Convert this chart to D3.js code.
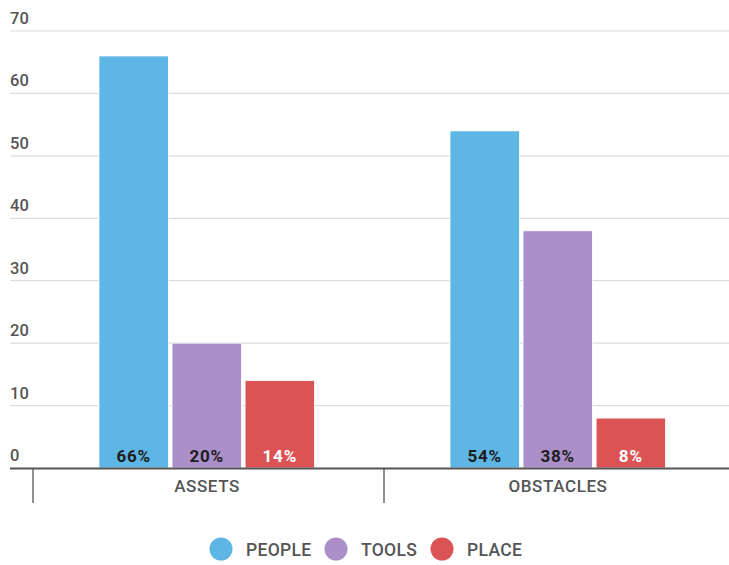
<!DOCTYPE html>
<html><head><meta charset="utf-8">
<script src="https://cdn.jsdelivr.net/npm/d3@7"></script>
<style>body{margin:0;background:#fff}svg{display:block;font-family:Roboto,sans-serif}</style>
</head><body><svg id="c" width="729" height="565"></svg>
<script>
const categories = ["ASSETS", "OBSTACLES"];
const seriesNames = ["PEOPLE", "TOOLS", "PLACE"];
const people = [66, 54];
const tools = [20, 38];
const place = [14, 8];
const barLabels = [["66%", "20%", "14%"], ["54%", "38%", "8%"]];
const yTicks = [0, 10, 20, 30, 40, 50, 60, 70];
const colors = ["#5DB6E4", "#AB8FC9", "#DC5356"];
const labelColors = ["#1d1d1d", "#1d1d1d", "#ffffff"];

const seriesValues = [people, tools, place];
const svg = d3.select("#c");
const y = d3.scaleLinear().domain([0, 70]).range([468, 31]);
const x0 = d3.scaleBand().domain(categories).range([33, 735]);
const bw = x0.bandwidth();
const x1 = d3.scaleBand().domain(seriesNames).range([bw*0.188, bw*0.802]).paddingInner(0.05);

// grid
svg.append("g").selectAll("line").data(yTicks.filter(d=>d>0)).join("line")
  .attr("x1", 10).attr("x2", 729).attr("y1", d=>y(d)).attr("y2", d=>y(d))
  .attr("stroke", "#dcdcdc").attr("stroke-width", 1.2);
svg.append("g").selectAll("text").data(yTicks).join("text")
  .attr("x", 10).attr("y", d=>y(d)-7).text(d=>d)
  .attr("font-size", 16.5).attr("font-weight", 500).attr("fill", "#555");

// bars
const rows = [];
categories.forEach((c, i) => seriesNames.forEach((s, j) => rows.push({c, s, j, v: seriesValues[j][i], lab: barLabels[i][j]})));
const g = svg.append("g");
g.selectAll("rect").data(rows).join("rect")
  .attr("x", d=>x0(d.c)+x1(d.s)).attr("width", x1.bandwidth())
  .attr("y", d=>y(d.v)).attr("height", d=>y(0)-y(d.v))
  .attr("fill", d=>colors[d.j]).attr("stroke", "#fff").attr("stroke-width", 0.8);
g.selectAll("text").data(rows).join("text")
  .attr("x", d=>x0(d.c)+x1(d.s)+x1.bandwidth()/2).attr("y", 462)
  .attr("text-anchor", "middle").attr("font-size", 17).attr("font-weight", 700)
  .attr("letter-spacing", 0.8)
  .attr("fill", d=>labelColors[d.j]).text(d=>d.lab);

// axis
svg.append("line").attr("x1", 10).attr("x2", 729).attr("y1", 468.5).attr("y2", 468.5)
  .attr("stroke", "#555").attr("stroke-width", 2);
svg.append("g").selectAll("line").data(categories).join("line")
  .attr("x1", d=>x0(d)).attr("x2", d=>x0(d)).attr("y1", 468).attr("y2", 503)
  .attr("stroke", "#555").attr("stroke-width", 1.3);
svg.append("g").selectAll("text").data(categories).join("text")
  .attr("x", d=>x0(d)+bw/2-1.5).attr("y", 492).attr("text-anchor", "middle")
  .attr("font-size", 17).attr("font-weight", 500).attr("letter-spacing", 0.6)
  .attr("fill", "#555").text(d=>d);

// legend
const legX = [221, 336, 442];
const lg = svg.append("g").selectAll("g").data(seriesNames).join("g")
  .attr("transform", (d,i)=>`translate(${legX[i]},549)`);
lg.append("circle").attr("r", 11.5).attr("fill", (d,i)=>colors[i]);
lg.append("text").attr("x", 25).attr("y", 6.5).attr("font-size", 17.5).attr("font-weight", 500)
  .attr("letter-spacing", 0.3).attr("fill", "#555").text(d=>d);
</script></body></html>
